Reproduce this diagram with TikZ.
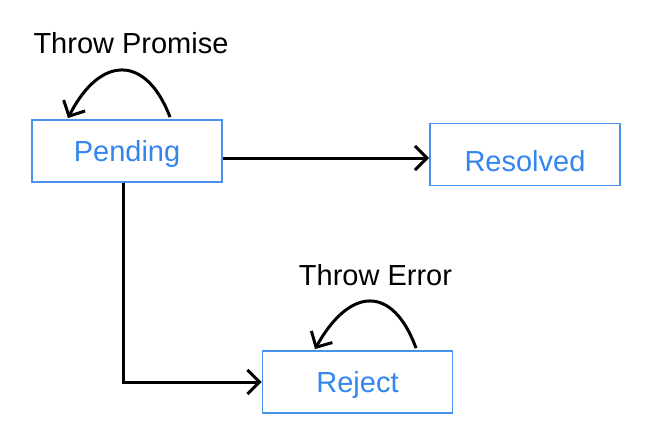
\documentclass[tikz,border=0pt]{standalone}
\usepackage{fontspec}
\setmainfont{Liberation Sans}
\usetikzlibrary{arrows.meta,calc}
\definecolor{stateblue}{RGB}{51,133,240}
\definecolor{boxblue}{RGB}{74,144,237}
\tikzset{
    state/.style={shape=rectangle,draw=boxblue,line width=1.8pt,text=stateblue,
        minimum width=190pt,minimum height=62pt,inner sep=0pt,
        text height=20.8pt,text depth=0pt,font=\fontsize{29}{34}\selectfont},
    looplabel/.style={anchor=base,font=\fontsize{29}{34}\selectfont},
    trans/.style={line width=3pt,-{Straight Barb[length=12pt,width=24pt,line width=3pt]}}
}
\begin{document}
    \begin{tikzpicture}[x=1pt,y=-1pt]
        \useasboundingbox[fill=white] (0,0) rectangle (654,447);
        \node[state] (P) at (127,151) {Pending};
        \node[state,text height=33.8pt] (S) at (525,154.5) {Resolved};
        \node[state] (R) at (357.5,382) {Reject};
        \node[looplabel] (TP) at (131,53) {Throw Promise};
        \node[looplabel] (TE) at (375.5,285) {Throw Error};
        \draw[trans] (P.east |- 0,158) -- (S.west |- 0,158);
        \draw[trans] (P.south -| 123,0) |- (R.west);
        \draw[trans] ($(P.north)+(43,-2)$) .. controls +(-24,-63) and +(32,-63) .. ($(P.north)+(-59,-1)$);
        \draw[trans] ($(R.north)+(58.5,-2)$) .. controls +(-23,-63) and +(35,-63) .. ($(R.north)+(-42.5,-1)$);
    \end{tikzpicture}
\end{document}
